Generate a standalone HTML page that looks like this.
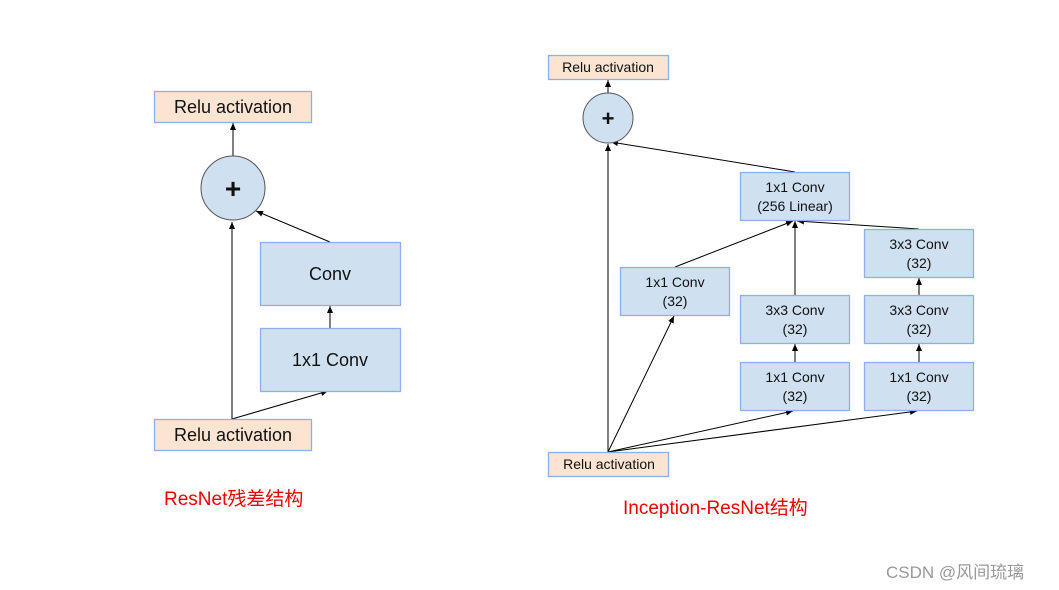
<!DOCTYPE html>
<html><head><meta charset="utf-8"><style>
body{margin:0;background:#fff;}
svg{display:block;}
text{font-family:"Liberation Sans","Noto Sans CJK SC",sans-serif;}
</style></head><body>
<svg width="1059" height="590" viewBox="0 0 1059 590" xmlns="http://www.w3.org/2000/svg">
<defs><marker id="a" markerWidth="8" markerHeight="8" refX="7" refY="3" orient="auto" markerUnits="userSpaceOnUse"><path d="M0,0 L7,3 L0,6 z" fill="#000"/></marker></defs>
<g stroke="#000" stroke-width="1" fill="none" marker-end="url(#a)">
<!-- left -->
<line x1="232" y1="419" x2="232" y2="222"/>
<line x1="232" y1="419" x2="328" y2="391"/>
<line x1="330" y1="328" x2="330" y2="306"/>
<line x1="330" y1="242" x2="256" y2="211"/>
<line x1="233" y1="156" x2="233" y2="123"/>
<!-- right -->
<line x1="608" y1="93" x2="608" y2="80"/>
<line x1="608" y1="452" x2="608" y2="144"/>
<line x1="795" y1="172" x2="611" y2="142"/>
<line x1="608" y1="452" x2="674" y2="316"/>
<line x1="608" y1="452" x2="793" y2="411"/>
<line x1="608" y1="452" x2="917" y2="411"/>
<line x1="675" y1="267" x2="793" y2="221"/>
<line x1="795" y1="295" x2="795" y2="221"/>
<line x1="919" y1="229" x2="797" y2="221"/>
<line x1="795" y1="362" x2="795" y2="344"/>
<line x1="919" y1="362" x2="919" y2="344"/>
<line x1="919" y1="295" x2="919" y2="278"/>
</g>
<g stroke="#8fb0e6" stroke-width="1.3">
<rect x="154.5" y="91.5" width="157" height="31" fill="#fbe5d2"/>
<rect x="154.5" y="419.5" width="157" height="31" fill="#fbe5d2"/>
<rect x="260.5" y="242.5" width="140" height="63" fill="#cfe0f1"/>
<rect x="260.5" y="328.5" width="140" height="63" fill="#cfe0f1"/>
<rect x="548.5" y="55.5" width="120" height="24" fill="#fbe5d2"/>
<rect x="548.5" y="452.5" width="120" height="24" fill="#fbe5d2"/>
<rect x="740.5" y="172.5" width="109" height="48" fill="#cfe0f1"/>
<rect x="620.5" y="267.5" width="109" height="48" fill="#cfe0f1"/>
<rect x="740.5" y="295.5" width="109" height="48" fill="#cfe0f1"/>
<rect x="740.5" y="362.5" width="109" height="48" fill="#cfe0f1"/>
<rect x="864.5" y="229.5" width="109" height="48" fill="#cfe0f1"/>
<rect x="864.5" y="295.5" width="109" height="48" fill="#cfe0f1"/>
<rect x="864.5" y="362.5" width="109" height="48" fill="#cfe0f1"/>
</g>
<circle cx="233" cy="188" r="32" fill="#cfe0f1" stroke="#555" stroke-width="1"/>
<circle cx="608" cy="118" r="25" fill="#cfe0f1" stroke="#555" stroke-width="1"/>
<g fill="#111" text-anchor="middle">
<text x="233" y="198" font-size="28" font-weight="bold">+</text>
<text x="608" y="126" font-size="22" font-weight="bold">+</text>
<text x="233" y="113" font-size="18">Relu activation</text>
<text x="233" y="441" font-size="18">Relu activation</text>
<text x="330" y="280" font-size="18">Conv</text>
<text x="330" y="366" font-size="18">1x1 Conv</text>
<text x="608" y="72" font-size="14">Relu activation</text>
<text x="609" y="469" font-size="14">Relu activation</text>
<g font-size="14">
<text x="795" y="192">1x1 Conv</text><text x="795" y="211">(256 Linear)</text>
<text x="675" y="287">1x1 Conv</text><text x="675" y="306">(32)</text>
<text x="795" y="315">3x3 Conv</text><text x="795" y="334">(32)</text>
<text x="795" y="382">1x1 Conv</text><text x="795" y="401">(32)</text>
<text x="919" y="249">3x3 Conv</text><text x="919" y="268">(32)</text>
<text x="919" y="315">3x3 Conv</text><text x="919" y="334">(32)</text>
<text x="919" y="382">1x1 Conv</text><text x="919" y="401">(32)</text>
</g>
</g>
<text x="164" y="505" font-size="19" fill="#e00">ResNet残差结构</text>
<text x="623" y="514" font-size="19" fill="#e00">Inception-ResNet结构</text>
<text x="886" y="578" font-size="17" fill="#999">CSDN @风间琉璃</text>
</svg>
</body></html>
